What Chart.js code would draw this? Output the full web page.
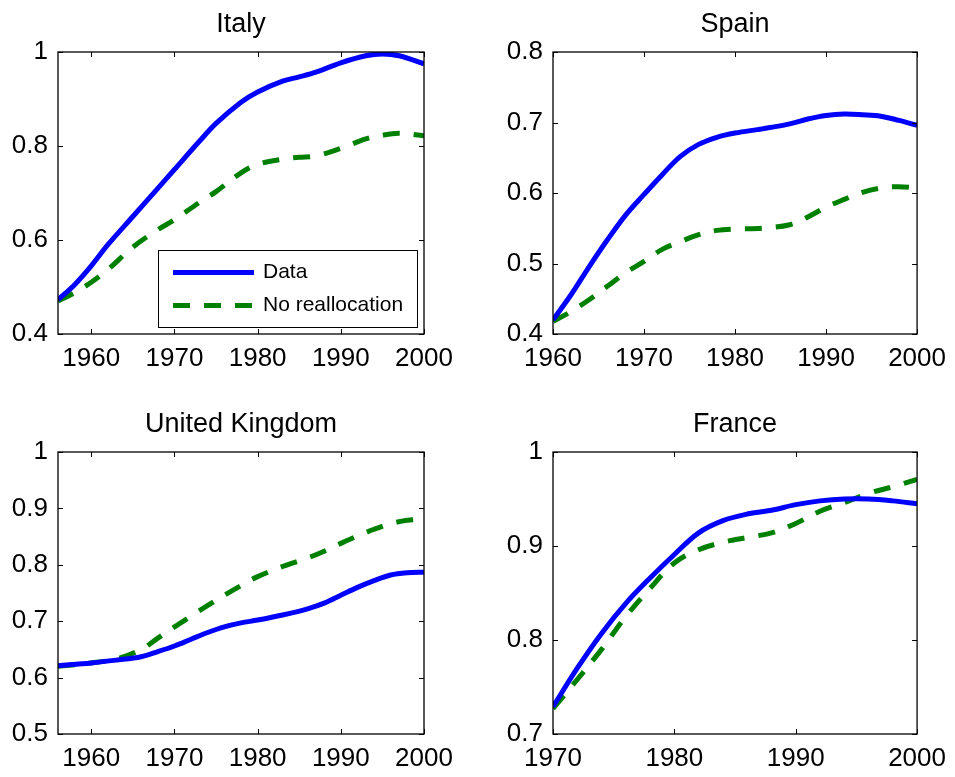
<!DOCTYPE html>
<html>
<head>
<meta charset="utf-8">
<script src="https://cdn.jsdelivr.net/npm/chart.js@4/dist/chart.umd.min.js"></script>
<style>
  html, body { margin: 0; padding: 0; background: #fff; overflow: hidden; }
  canvas { position: absolute; }
</style>
</head>
<body>
<canvas id="italy" width="470" height="377" style="left:0;top:0"></canvas>
<canvas id="spain" width="485" height="377" style="left:470px;top:0"></canvas>
<canvas id="uk" width="470" height="377" style="left:0;top:400px"></canvas>
<canvas id="france" width="485" height="377" style="left:470px;top:400px"></canvas>
<script>
const seriesLabels = ["Data", "No reallocation"];

const italyYears = [1956, 1958, 1960, 1962, 1965, 1968, 1970, 1973, 1975, 1978, 1980, 1983, 1985, 1987, 1990, 1993, 1995, 1997, 2000];
const italyData = [0.473, 0.505, 0.545, 0.590, 0.650, 0.710, 0.750, 0.810, 0.848, 0.893, 0.915, 0.938, 0.947, 0.957, 0.977, 0.992, 0.996, 0.992, 0.975];
const italyNoRealloc = [0.470, 0.488, 0.510, 0.537, 0.585, 0.622, 0.643, 0.680, 0.703, 0.743, 0.761, 0.772, 0.776, 0.779, 0.795, 0.815, 0.823, 0.827, 0.822];

const spainYears = [1960, 1962, 1964, 1966, 1968, 1970, 1972, 1974, 1976, 1978, 1980, 1983, 1986, 1988, 1990, 1992, 1994, 1996, 1998, 2000];
const spainData = [0.420, 0.456, 0.496, 0.534, 0.569, 0.598, 0.626, 0.652, 0.669, 0.679, 0.685, 0.691, 0.698, 0.705, 0.710, 0.712, 0.711, 0.709, 0.703, 0.696];
const spainNoRealloc = [0.418, 0.432, 0.449, 0.468, 0.487, 0.503, 0.520, 0.531, 0.541, 0.547, 0.549, 0.550, 0.555, 0.566, 0.580, 0.591, 0.601, 0.607, 0.609, 0.607];

const ukYears = [1956, 1960, 1963, 1966, 1968, 1970, 1972, 1974, 1976, 1978, 1980, 1983, 1986, 1988, 1990, 1992, 1994, 1996, 1998, 2000];
const ukData = [0.621, 0.626, 0.631, 0.637, 0.646, 0.656, 0.668, 0.680, 0.690, 0.697, 0.702, 0.711, 0.722, 0.732, 0.746, 0.760, 0.772, 0.782, 0.786, 0.787];
const ukNoRealloc = [0.620, 0.626, 0.633, 0.650, 0.670, 0.690, 0.709, 0.728, 0.746, 0.763, 0.779, 0.797, 0.812, 0.824, 0.838, 0.851, 0.863, 0.873, 0.879, 0.881];

const franceYears = [1970, 1972, 1974, 1976, 1978, 1980, 1982, 1984, 1986, 1988, 1990, 1992, 1994, 1996, 1998, 2000];
const franceData = [0.729, 0.770, 0.807, 0.839, 0.866, 0.891, 0.914, 0.927, 0.934, 0.938, 0.944, 0.948, 0.950, 0.950, 0.948, 0.945];
const franceNoRealloc = [0.727, 0.758, 0.790, 0.825, 0.855, 0.882, 0.896, 0.904, 0.909, 0.914, 0.924, 0.937, 0.946, 0.956, 0.963, 0.971];

const xTicks1956 = [1960, 1970, 1980, 1990, 2000];
const xTicks1970 = [1970, 1980, 1990, 2000];
const italyYTicks = [0.4, 0.6, 0.8, 1];
const spainYTicks = [0.4, 0.5, 0.6, 0.7, 0.8];
const ukYTicks = [0.5, 0.6, 0.7, 0.8, 0.9, 1];
const franceYTicks = [0.7, 0.8, 0.9, 1];

const FONT = "'Liberation Sans', Arial, Helvetica, sans-serif";

// title centred over the plot box, not the canvas
const panelTitle = {
  id: "panelTitle",
  afterDraw(chart, args, opts) {
    const { ctx, chartArea: a } = chart;
    ctx.save();
    ctx.fillStyle = "#000";
    ctx.font = "27px " + FONT;
    ctx.textAlign = "center";
    ctx.textBaseline = "alphabetic";
    ctx.fillText(opts.text, (a.left + a.right) / 2, a.top - 20);
    ctx.restore();
  }
};

// matlab-like box with inward ticks on all four sides
const boxTicks = {
  id: "boxTicks",
  afterDatasetsDraw(chart) {
    const { ctx, chartArea: a, scales: { x, y } } = chart;
    ctx.save();
    ctx.strokeStyle = "#000";
    ctx.lineWidth = 1;
    ctx.beginPath();
    x.ticks.forEach(t => {
      const px = Math.round(x.getPixelForValue(t.value)) + 0.5;
      ctx.moveTo(px, a.bottom); ctx.lineTo(px, a.bottom - 5);
      ctx.moveTo(px, a.top); ctx.lineTo(px, a.top + 5);
    });
    y.ticks.forEach(t => {
      const py = Math.round(y.getPixelForValue(t.value)) + 0.5;
      ctx.moveTo(a.left, py); ctx.lineTo(a.left + 5, py);
      ctx.moveTo(a.right, py); ctx.lineTo(a.right - 5, py);
    });
    ctx.stroke();
    ctx.lineWidth = 1.3;
    ctx.strokeRect(a.left, a.top, a.right - a.left, a.bottom - a.top);
    ctx.restore();
  }
};

// legend boxed inside the plot, lower right
const boxLegend = {
  id: "boxLegend",
  afterDraw(chart) {
    const { ctx, chartArea: a } = chart;
    const w = 259, h = 77;
    const left = Math.round(a.right - 7 - w), top = Math.round(a.bottom - 7 - h);
    ctx.save();
    ctx.fillStyle = "#fff";
    ctx.fillRect(left, top, w, h);
    ctx.strokeStyle = "#000";
    ctx.lineWidth = 1;
    ctx.strokeRect(left + 0.5, top + 0.5, w, h);
    chart.data.datasets.forEach((ds, i) => {
      const ly = top + 22.5 + i * 33;
      ctx.strokeStyle = ds.borderColor;
      ctx.lineWidth = 5;
      ctx.setLineDash(ds.borderDash || []);
      ctx.beginPath();
      ctx.moveTo(left + 15, ly);
      ctx.lineTo(left + 96, ly);
      ctx.stroke();
      ctx.setLineDash([]);
      ctx.fillStyle = "#000";
      ctx.font = "21px " + FONT;
      ctx.textBaseline = "middle";
      ctx.textAlign = "left";
      ctx.fillText(ds.label, left + 105, ly);
    });
    ctx.restore();
  }
};

function toPoints(years, vals) {
  return years.map((yr, i) => ({ x: yr, y: vals[i] }));
}

function drawPanel(id, title, years, data, noRealloc, xMin, xTicks, yTicks, yWidth, rightPad, withLegend) {
  const plugins = [boxTicks, panelTitle];
  if (withLegend) plugins.push(boxLegend);
  new Chart(document.getElementById(id).getContext("2d"), {
    type: "line",
    data: {
      datasets: [
        {
          label: seriesLabels[0],
          data: toPoints(years, data),
          borderColor: "#0000ff",
          borderWidth: 5,
          pointRadius: 0,
          tension: 0.35,
          fill: false
        },
        {
          label: seriesLabels[1],
          data: toPoints(years, noRealloc),
          borderColor: "#008000",
          borderWidth: 5,
          borderDash: [17, 14],
          borderCapStyle: "butt",
          pointRadius: 0,
          tension: 0.35,
          fill: false
        }
      ]
    },
    options: {
      responsive: false,
      animation: false,
      layout: { padding: { left: 0, right: rightPad, top: 52, bottom: 0 } },
      plugins: {
        legend: { display: false },
        tooltip: { enabled: false },
        title: { display: false },
        panelTitle: { text: title }
      },
      scales: {
        x: {
          type: "linear",
          min: xMin,
          max: 2000,
          afterBuildTicks: scale => { scale.ticks = xTicks.map(v => ({ value: v })); },
          afterFit: scale => { scale.height = 43; },
          grid: { display: false, drawTicks: false },
          border: { display: false },
          ticks: {
            color: "#000",
            padding: 9,
            maxRotation: 0,
            font: { family: FONT, size: 26 },
            callback: v => String(v)
          }
        },
        y: {
          min: yTicks[0],
          max: yTicks[yTicks.length - 1],
          afterBuildTicks: scale => { scale.ticks = yTicks.map(v => ({ value: v })); },
          afterFit: scale => { scale.width = yWidth; },
          grid: { display: false, drawTicks: false },
          border: { display: false },
          ticks: {
            color: "#000",
            padding: 10,
            font: { family: FONT, size: 26 },
            callback: v => String(+v.toFixed(1))
          }
        }
      }
    },
    plugins: plugins
  });
}

drawPanel("italy", "Italy", italyYears, italyData, italyNoRealloc, 1956, xTicks1956, italyYTicks, 58, 46, true);
drawPanel("spain", "Spain", spainYears, spainData, spainNoRealloc, 1960, xTicks1956, spainYTicks, 83, 35, false);
drawPanel("uk", "United Kingdom", ukYears, ukData, ukNoRealloc, 1956, xTicks1956, ukYTicks, 58, 46, false);
drawPanel("france", "France", franceYears, franceData, franceNoRealloc, 1970, xTicks1970, franceYTicks, 83, 35, false);
</script>
</body>
</html>
